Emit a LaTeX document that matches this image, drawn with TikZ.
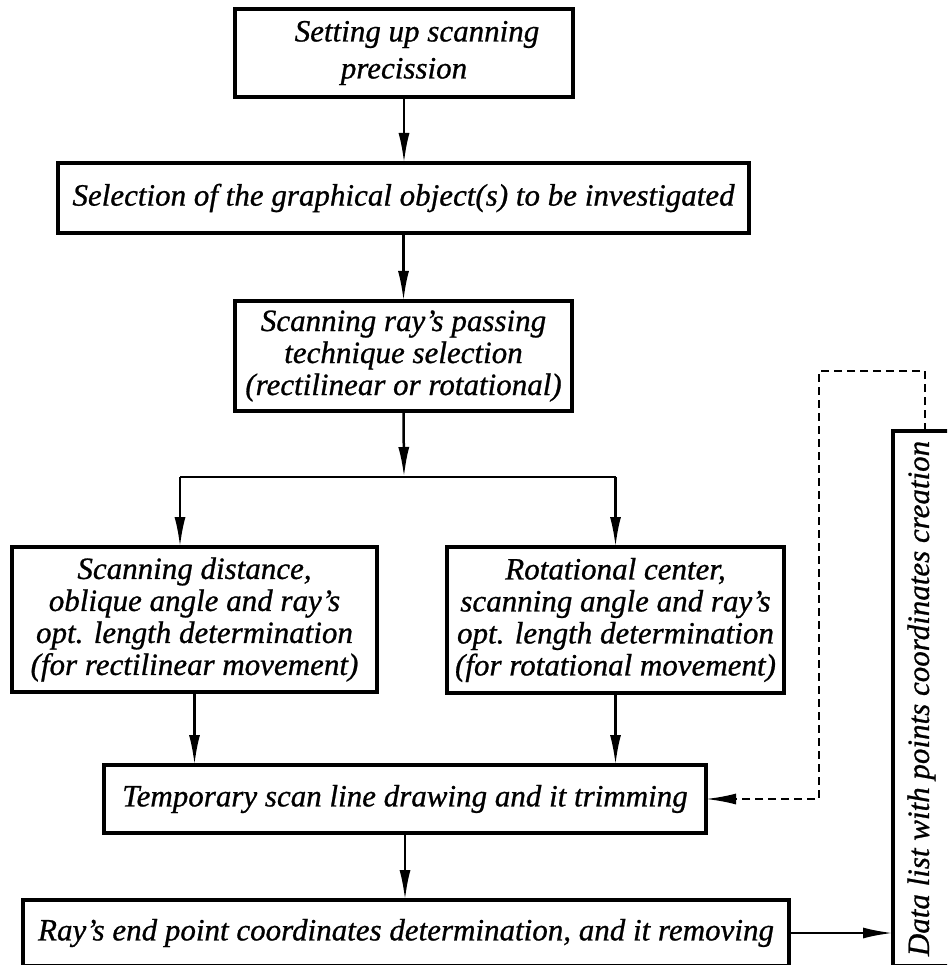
\documentclass[tikz,border=0pt]{standalone}
\usepackage{fontspec}
\setmainfont{Liberation Serif}[ItalicFeatures={FakeBold=0.8}]
\usetikzlibrary{arrows.meta}
\tikzset{
  box/.style={draw, line width=3.5pt, inner sep=2pt, outer sep=0pt, align=center,
    font=\fontsize{31}{32}\selectfont\itshape},
  conn/.style={line width=2.5pt},
  arr/.style={line width=2.5pt, -{Latex[length=30pt,width=11pt]}},
  dashconn/.style={line width=2pt, dash pattern=on 8pt off 5pt, -{Latex[length=30pt,width=11pt]}},
}
\begin{document}
\begin{tikzpicture}[x=1pt,y=-1pt]
\useasboundingbox (0,0) rectangle (947,965);
\clip (0,0) rectangle (947,965);
\fill[white] (0,0) rectangle (947,965);

\node[box, minimum width=338, minimum height=88, font=\fontsize{31}{37}\selectfont\itshape] (b1) at (404,53)
  {\hspace*{26pt}Setting up scanning\\precission};
\node[box, minimum width=691, minimum height=70] (b2) at (403.5,198)
  {Selection of the graphical object(s) to be investigated};
\node[box, minimum width=337, minimum height=110] (b3) at (403.5,356)
  {Scanning ray's passing\\technique selection\\(rectilinear or rotational)};
\node[box, minimum width=365, minimum height=145] (b4) at (194.5,619.5)
  {Scanning distance,\\oblique angle and ray's\\opt. length determination\\(for rectilinear movement)};
\node[box, minimum width=337, minimum height=146] (b5) at (615.5,620)
  {Rotational center,\\scanning angle and ray's\\opt. length determination\\(for rotational movement)};
\node[box, minimum width=602, minimum height=68] (b6) at (405,799)
  {Temporary scan line drawing and it trimming};
\node[box, minimum width=766, minimum height=66] (b7) at (406,933)
  {Ray's end point coordinates determination, and it removing};
\node[box, rotate=90, minimum width=535, minimum height=57] (b8) at (921.5,698.5)
  {Data list with points coordinates creation};

\coordinate (j) at (404,477);
\coordinate (jl) at (180,477);
\coordinate (jr) at (615.5,477);
\coordinate (d1) at (925,371);
\coordinate (d2) at (819,371);
\coordinate (d3) at (819,799);

\draw[arr] (b1.south) -- (b1.south |- b2.north);
\draw[arr] (b2.south -| b3.north) -- (b3.north);
\draw[arr] (b3.south) -- (j);
\draw[conn] (jl) -- (jr);
\draw[arr] (jl) -- (jl |- b4.north);
\draw[arr] (jr) -- (jr |- b5.north);
\draw[arr] (b4.south) -- (b4.south |- b6.north);
\draw[arr] (b5.south) -- (b5.south |- b6.north);
\draw[arr] (b6.south) -- (b6.south |- b7.north);
\draw[arr] (b7.east) -- (b7.east -| b8.north);
\draw[dashconn] (b8.east -| d1) -- (d1) -- (d2) -- (d3) -- (b6.east);
\end{tikzpicture}
\end{document}
